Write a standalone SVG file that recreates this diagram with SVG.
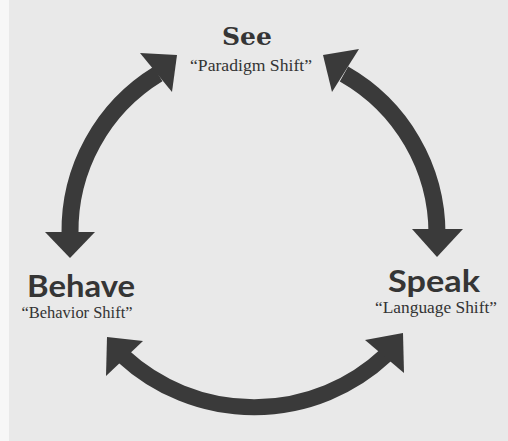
<svg xmlns="http://www.w3.org/2000/svg" width="508" height="441" viewBox="0 0 508 441">
  <style>
    .shaft { fill: none; stroke: #3a3a3a; stroke-width: 17; }
    .head { fill: #3a3a3a; }
    .title { font-family: "DejaVu Serif", "Liberation Serif", serif; font-weight: bold; fill: #353535; text-anchor: middle; }
    .title2 { font-family: Lato, "Liberation Sans", sans-serif; font-weight: bold; fill: #353535; text-anchor: middle; }
    .sub { font-family: "Liberation Serif", "DejaVu Serif", serif; fill: #333333; text-anchor: middle; font-size: 17px; }
  </style>
  <rect x="0" y="0" width="508" height="441" fill="#e9e9e9"/>
  <rect x="0" y="0" width="9" height="441" fill="#f7f7f7"/>

  <g id="connectors">
    <path class="shaft" d="M 158,74 A 184 184 0 0 0 70,234"/>
    <polygon class="head" points="177,55 140,53 172,92"/>
    <polygon class="head" points="70,258 45,232 95,232"/>

    <path class="shaft" d="M 344,74 A 184 184 0 0 1 437,234"/>
    <polygon class="head" points="323,55 359,49 332,92"/>
    <polygon class="head" points="437,257 412,229 463,229"/>

    <path class="shaft" style="stroke-width:16" d="M 123,356 A 193 193 0 0 0 386,355"/>
    <polygon class="head" points="107,337 143,341 106,376"/>
    <polygon class="head" points="403,333 365,340 404,373"/>
  </g>

  <g id="see">
    <text class="title" x="247" y="45" font-size="25">See</text>
    <text class="sub" x="251" y="71" textLength="122" lengthAdjust="spacingAndGlyphs">“Paradigm Shift”</text>
  </g>

  <g id="behave">
    <text class="title2" x="81" y="297" font-size="30" textLength="108" lengthAdjust="spacingAndGlyphs">Behave</text>
    <text class="sub" x="77" y="318" textLength="111" lengthAdjust="spacingAndGlyphs">“Behavior Shift”</text>
  </g>

  <g id="speak">
    <text class="title2" x="434" y="292" font-size="30" textLength="92" lengthAdjust="spacingAndGlyphs">Speak</text>
    <text class="sub" x="436" y="313" textLength="122" lengthAdjust="spacingAndGlyphs">“Language Shift”</text>
  </g>
</svg>
